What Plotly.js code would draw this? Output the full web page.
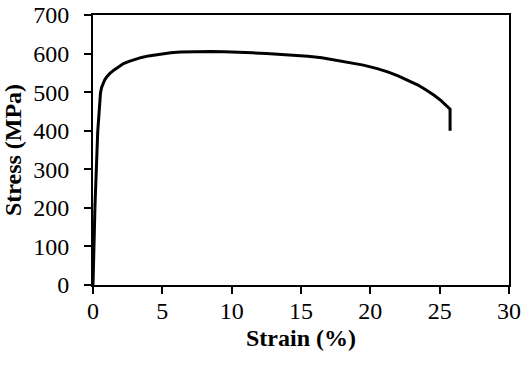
<!DOCTYPE html>
<html>
<head>
<meta charset="utf-8">
<script src="https://cdn.plot.ly/plotly-3.0.1.min.js"></script>
<style>html,body{margin:0;padding:0;background:#fff;}#chart{width:527px;height:366px;}</style>
</head>
<body>
<div id="chart"></div>
<script>
const strain = [0, 0.14, 0.34, 0.46, 0.54, 0.62, 0.72, 0.85, 1.0, 1.2, 1.5, 1.85, 2.2, 2.6, 3.0, 3.5, 4.0, 4.5, 5.0, 5.6, 6.3, 7.0, 7.7, 8.5, 9.5, 10.5, 11.5, 12.5, 13.5, 14.5, 15.5, 16.5, 17.5, 18.5, 19.5, 20.5, 21.3, 22.0, 22.7, 23.4, 24.0, 24.6, 25.1, 25.5, 25.75, 25.75];
const stress = [0, 202, 397, 470, 498, 512, 523, 532, 540, 548, 557, 566, 574, 580, 585, 590, 594, 597, 600, 602, 604, 605, 605.5, 605.5, 605, 604, 602, 600, 598, 596, 593, 589, 583, 577, 570, 561, 552, 542, 531, 519, 506, 492, 478, 466, 456, 400];
const xTicks = [0, 5, 10, 15, 20, 25, 30];
const yTicks = [0, 100, 200, 300, 400, 500, 600, 700];

const font = {family: 'Liberation Serif, Times New Roman, serif', size: 24, color: '#000'};
const axisCommon = {
  showgrid: false, zeroline: false, showline: true, linecolor: '#000', linewidth: 2,
  mirror: true, ticks: 'outside', ticklen: 7, tickwidth: 2, tickcolor: '#000',
  tickfont: font, automargin: false
};
Plotly.newPlot('chart', [{
  x: strain, y: stress, mode: 'lines', type: 'scatter',
  line: {color: '#000', width: 3}, hoverinfo: 'skip'
}], {
  width: 527, height: 366,
  margin: {l: 93, r: 18, t: 15, b: 81},
  paper_bgcolor: '#fff', plot_bgcolor: '#fff',
  showlegend: false,
  font: font,
  xaxis: Object.assign({}, axisCommon, {
    range: [0, 30], tickmode: 'array', tickvals: xTicks, ticklabelstandoff: -4,
    title: {text: '<b>Strain (%)</b>', font: font, standoff: 6}
  }),
  yaxis: Object.assign({}, axisCommon, {
    range: [0, 700], tickmode: 'array', tickvals: yTicks, ticklabelstandoff: 10,
    title: {text: '<b>Stress (MPa)</b>', font: font, standoff: 6}
  })
}, {staticPlot: true, displayModeBar: false});
</script>
</body>
</html>
